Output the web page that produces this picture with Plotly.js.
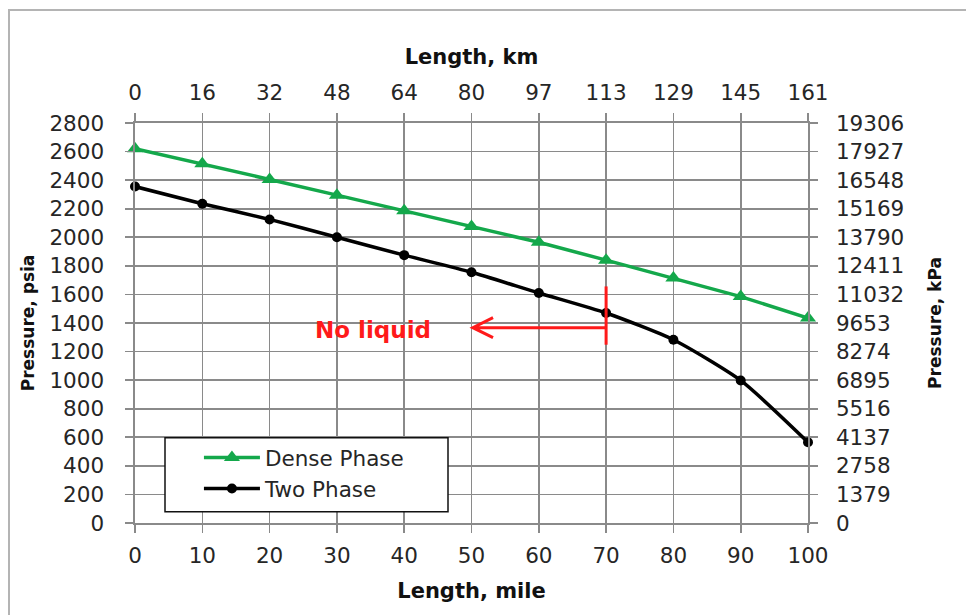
<!DOCTYPE html>
<html><head><meta charset="utf-8">
<script src="https://cdn.plot.ly/plotly-3.0.1.min.js"></script>
<style>body{margin:0;background:#fff}#chart{width:966px;height:615px}</style>
</head><body><div id="chart"></div><script>
const lengthMile = [0,10,20,30,40,50,60,70,80,90,100];
const densePhase = [2620,2515,2405,2295,2185,2075,1965,1840,1715,1585,1435];
const twoPhase = [2355,2235,2125,2000,1875,1755,1610,1470,1283,998,565];
const kmTickText = ['0','16','32','48','64','80','97','113','129','145','161'];
const psiTicks = [0,200,400,600,800,1000,1200,1400,1600,1800,2000,2200,2400,2600,2800];
const kpaTickText = ['0','1379','2758','4137','5516','6895','8274','9653','11032','12411','13790','15169','16548','17927','19306'];
// annotation: "No liquid" marker at 70 mile
const noLiquidX = 70, noLiquidArrowTo = 50.2, noLiquidY = 1367, noLiquidBarY = [1248,1656];

const FONT = '"DejaVu Sans", Verdana, sans-serif';
const GRID = '#8a8a8a';
const tickFont = {family: FONT, size: 21.5, color: '#262626'};
const titleFontH = {family: FONT, size: 21, color: '#111', weight: 'bold'};
const titleFontV = {family: FONT, size: 17, color: '#111', weight: 'bold'};

const traces = [
  {x: lengthMile, y: densePhase, name: 'Dense Phase', mode: 'lines+markers', cliponaxis: false,
   line: {color: '#14a84b', width: 3.5}, marker: {symbol: 'triangle-up', size: 14, color: '#14a84b'}},
  {x: lengthMile, y: twoPhase, name: 'Two Phase', mode: 'lines+markers', cliponaxis: false,
   line: {color: '#000', width: 3.5, shape: 'spline', smoothing: 0.6}, marker: {symbol: 'circle', size: 10, color: '#000'}},
  {x: lengthMile, y: densePhase, xaxis: 'x2', yaxis: 'y2', mode: 'lines', opacity: 0,
   line: {width: 0}, showlegend: false, hoverinfo: 'skip'}
];

const axisCommon = {
  showgrid: true, gridcolor: GRID, gridwidth: 1.6, zeroline: false,
  ticks: 'outside', ticklen: 8, tickcolor: GRID, tickwidth: 1.6,
  showline: true, linecolor: GRID, linewidth: 1.6,
  tickfont: tickFont, automargin: false, fixedrange: true
};

const layout = {
  width: 966, height: 615,
  margin: {l: 135, r: 158, t: 123, b: 92},
  paper_bgcolor: '#fff', plot_bgcolor: '#fff',
  showlegend: true,
  xaxis: Object.assign({}, axisCommon, {
    range: [0, 100], tickmode: 'array', tickvals: lengthMile, ticklabelstandoff: 5,
    title: {text: 'Length, mile', font: titleFontH, standoff: 16}
  }),
  xaxis2: Object.assign({}, axisCommon, {
    overlaying: 'x', side: 'top', range: [0, 100], tickmode: 'array',
    tickvals: lengthMile, ticktext: kmTickText, showgrid: false, ticklabelstandoff: 5,
    title: {text: 'Length, km', font: titleFontH, standoff: 9}
  }),
  yaxis: Object.assign({}, axisCommon, {
    range: [0, 2800], tickmode: 'array', tickvals: psiTicks, ticklabelstandoff: 17,
    title: {text: 'Pressure, psia', font: titleFontV, standoff: 10}
  }),
  yaxis2: Object.assign({}, axisCommon, {
    overlaying: 'y', side: 'right', range: [0, 2800], tickmode: 'array',
    tickvals: psiTicks, ticktext: kpaTickText, showgrid: false, ticklabelstandoff: 14,
    title: {text: 'Pressure, kPa', font: titleFontV, standoff: 26}
  }),
  legend: {
    x: 0.095, y: 0.215, xanchor: 'left', yanchor: 'top',
    bgcolor: 'rgba(0,0,0,0)', borderwidth: 0,
    font: {family: FONT, size: 21.5, color: '#262626'},
    traceorder: 'grouped', tracegroupgap: 10, itemwidth: 56
  },
  shapes: [
    // figure frame
    {type: 'rect', xref: 'paper', yref: 'paper', x0: -126/673, x1: 840/673, y0: -120/400, y1: 513/400,
     line: {color: '#b4b4b4', width: 2}, fillcolor: 'rgba(0,0,0,0)', layer: 'below'},
    // legend box
    {type: 'rect', xref: 'paper', yref: 'paper', x0: 30/673, x1: 313/673, y0: 11.3/400, y1: 85.3/400,
     line: {color: '#111', width: 1.5}, fillcolor: '#fff', layer: 'above'},
    // red bar at 70 mile
    {type: 'line', xref: 'x', yref: 'y', x0: noLiquidX, x1: noLiquidX, y0: noLiquidBarY[0], y1: noLiquidBarY[1],
     line: {color: '#ff1a1a', width: 3}, layer: 'above'},
    // red arrow
    {type: 'path', xref: 'x', yref: 'y', layer: 'above',
     path: `M ${noLiquidX},${noLiquidY} L ${noLiquidArrowTo},${noLiquidY} M ${noLiquidArrowTo+3},${noLiquidY+70} L ${noLiquidArrowTo},${noLiquidY} L ${noLiquidArrowTo+3},${noLiquidY-70}`,
     line: {color: '#ff1a1a', width: 3}}
  ],
  annotations: [
    {x: 35.4, y: 1353, xref: 'x', yref: 'y', text: '<b>No liquid</b>', showarrow: false,
     font: {family: FONT, size: 23, color: '#ff1a1a'}}
  ]
};

Plotly.newPlot('chart', traces, layout, {displayModeBar: false, staticPlot: true});
</script></body></html>
